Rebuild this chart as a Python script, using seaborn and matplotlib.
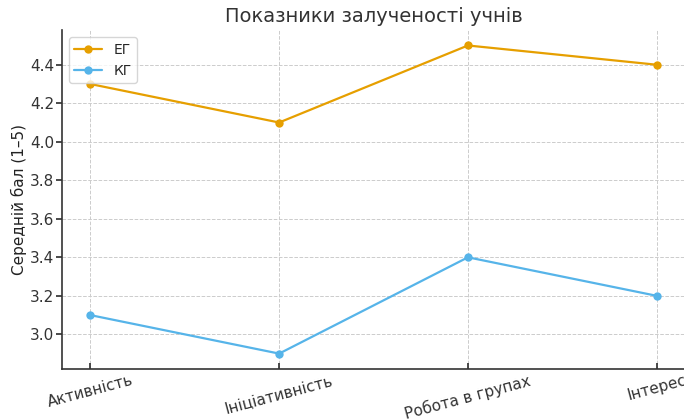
import numpy as np
import pandas as pd
import seaborn as sns
import matplotlib.pyplot as plt

# Data
categories = ["Активність", "Ініціативність", "Робота в групах", "Інтерес"]
eg_values = [4.3, 4.1, 4.5, 4.4]
kg_values = [3.1, 2.9, 3.4, 3.2]
groups = ["ЕГ", "КГ"]

df = pd.DataFrame({
    "category": categories * 2,
    "score": eg_values + kg_values,
    "group": [groups[0]] * len(categories) + [groups[1]] * len(categories),
})

sns.set_theme(style="whitegrid")
plt.rcParams["font.family"] = ["DejaVu Sans"]

fig = plt.figure(figsize=(6.84, 4.2), dpi=100)
ax = fig.add_axes([0.0906, 0.1214, 0.911, 0.807])

sns.lineplot(data=df, x="category", y="score", hue="group", sort=False,
             palette=["#E69F00", "#56B4E9"], marker="o", markersize=6,
             markeredgewidth=0, linewidth=1.6, ax=ax)

ax.set_title("Показники залученості учнів", fontsize=14, color="#333333")
ax.set_xlabel("")
ax.set_ylabel("Середній бал (1–5)", fontsize=11, color="#222222", labelpad=2)
ax.grid(True, linestyle="--", color="#cccccc", linewidth=0.7)
for s in ["top", "right"]:
    ax.spines[s].set_visible(False)
for s in ["left", "bottom"]:
    ax.spines[s].set_color("#333333")
    ax.spines[s].set_linewidth(1.2)
ax.tick_params(axis="y", labelsize=11, colors="#333333", length=4, pad=1.5, left=True)
ax.tick_params(axis="x", labelsize=11, colors="#333333", length=4, direction="in",
               pad=2.5, bottom=True)
plt.setp(ax.get_xticklabels(), rotation=15)
ax.legend(loc="upper left", fontsize=10, frameon=True)

fig.savefig("out.png", dpi=100)
